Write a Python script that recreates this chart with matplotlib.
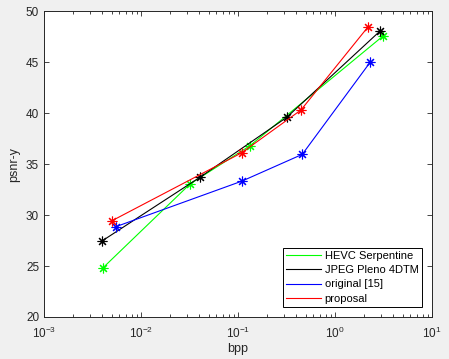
import matplotlib
matplotlib.use("Agg")
import matplotlib.pyplot as plt
from matplotlib.ticker import LogLocator, NullFormatter, MultipleLocator

plt.rcParams['font.family'] = ['Liberation Sans', 'DejaVu Sans']

hevc_bpp = [0.00403, 0.032, 0.133, 3.15]
hevc_psnr = [24.8, 33.04, 36.8, 47.58]
jpeg_bpp = [0.004, 0.0405, 0.318, 2.91]
jpeg_psnr = [27.48, 33.7, 39.58, 48.04]
orig_bpp = [0.00548, 0.11, 0.46, 2.30]
orig_psnr = [28.85, 33.33, 35.95, 44.97]
prop_bpp = [0.00502, 0.109, 0.446, 2.17]
prop_psnr = [29.44, 36.1, 40.3, 48.4]

fig = plt.figure(figsize=(4.49, 3.59), dpi=100, facecolor='#f0f0f0')
ax = fig.add_axes([0.098, 0.117, 0.864, 0.852])
ax.set_facecolor('white')

kw = dict(marker=(8, 2, 0), markersize=7, markeredgewidth=0.8, linewidth=0.8)
ax.plot(hevc_bpp, hevc_psnr, color=(0, 1, 0), label='HEVC Serpentine', **kw)
ax.plot(jpeg_bpp, jpeg_psnr, color='black', label='JPEG Pleno 4DTM', **kw)
ax.plot(orig_bpp, orig_psnr, color=(0, 0, 1), label='original [15]', **kw)
ax.plot(prop_bpp, prop_psnr, color=(1, 0, 0), label='proposal', **kw)

ax.set_xscale('log')
ax.set_xlim(1e-3, 10)
ax.set_ylim(20, 50)
ax.yaxis.set_major_locator(MultipleLocator(5))
ax.xaxis.set_minor_locator(LogLocator(base=10, subs=range(2, 10), numticks=20))
ax.xaxis.set_minor_formatter(NullFormatter())
ax.tick_params(which='both', direction='in', top=True, right=True, labelsize=8.5,
               colors='#262626', width=0.6)
ax.tick_params(which='major', length=3.5)
ax.tick_params(which='minor', length=2)
ax.tick_params(axis='x', which='major', pad=6)
for s in ax.spines.values():
    s.set_linewidth(0.7)
    s.set_color('#262626')

ax.set_xlabel('bpp', fontsize=9, color='#262626', labelpad=2)
ax.set_ylabel('psnr-y', fontsize=9, color='#262626', labelpad=4)

leg = ax.legend(loc='lower right', fontsize=8, fancybox=False, framealpha=1,
                edgecolor='black', borderpad=0.3, handlelength=3.2,
                labelspacing=0.38, handletextpad=0.3, borderaxespad=0.9)
leg.get_frame().set_linewidth(0.7)
for h in leg.legend_handles:
    h.set_marker('')

fig.savefig('out.png', dpi=100, facecolor=fig.get_facecolor())
